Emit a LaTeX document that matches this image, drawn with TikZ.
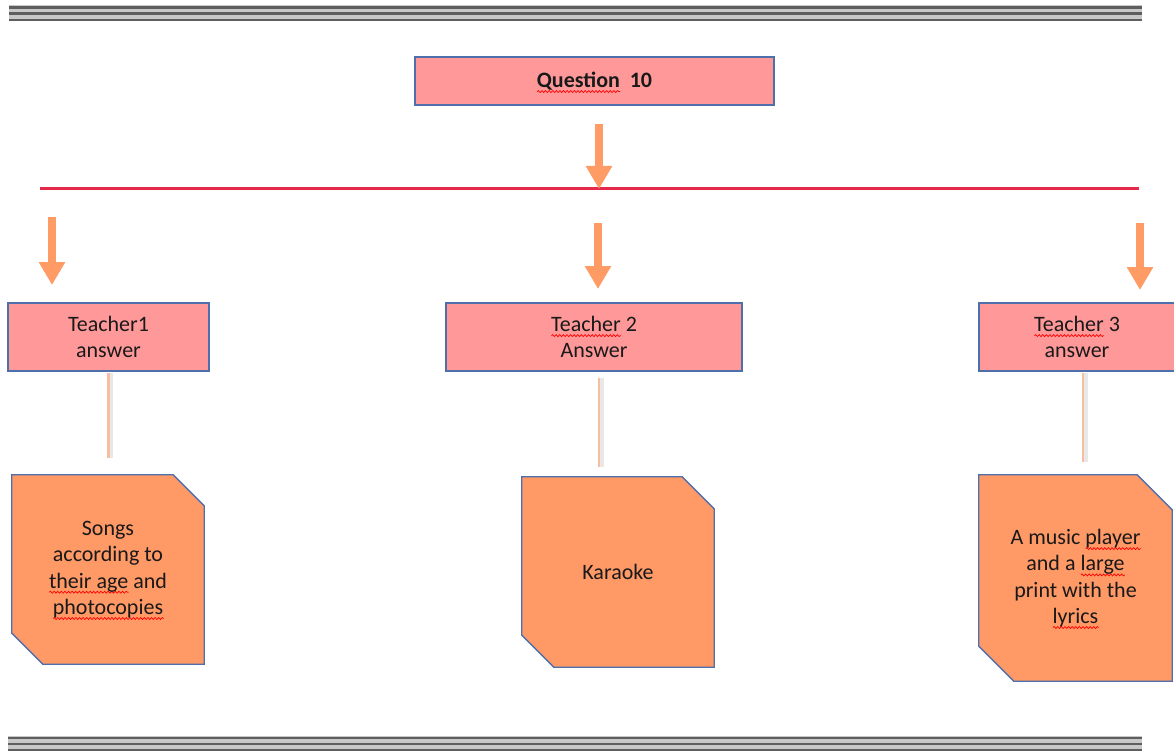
\documentclass[tikz,border=0pt]{standalone}
\usepackage{fontspec}
\setmainfont{Carlito}
\usetikzlibrary{arrows.meta,calc,decorations.pathmorphing}

\pgfdeclarelayer{paper}
\pgfdeclarelayer{background}
\pgfsetlayers{paper,background,main}

\definecolor{boxpink}{HTML}{FF9999}
\definecolor{boxorange}{HTML}{FF9966}
\definecolor{arroworange}{HTML}{FF9C66}
\definecolor{edgeblue}{HTML}{4F6FAA}
\definecolor{barred}{HTML}{E6284B}
\definecolor{linkpeach}{HTML}{F8BEA0}
\definecolor{ruledark}{HTML}{5E5E5E}
\definecolor{rulelight}{HTML}{C8C8C8}

% red wavy underline for flagged words
\newdimen\squigwd
\newcommand\squig[1]{\setbox0\hbox{#1}\squigwd=\wd0\relax
  \leavevmode\rlap{\raisebox{-4.2pt}[0pt][0pt]{\tikz[x=1pt,y=1pt,baseline=0pt]
    \draw[red, line width=0.7pt, decorate,
      decoration={snake, amplitude=1pt, segment length=3.6pt}]
      (0,0) -- (\squigwd,0);}}#1}

\tikzset{
  txt/.style={font=\fontsize{22}{26.3}\selectfont, text=black!90, align=center},
  qbox/.style={txt, draw=edgeblue, line width=1.3pt, fill=boxpink, inner sep=0pt},
  tbox/.style={txt, draw=edgeblue, line width=1.3pt, fill=boxpink, inner sep=0pt},
  snipbox/.style={txt, inner sep=0pt},
  snipedge/.style={draw=edgeblue, line width=1.3pt, fill=boxorange, line join=miter},
  blockarrow/.style={arroworange, line width=8.5pt, -{Triangle[width=25pt,length=23pt]}},
  linkshade/.style={black!15, line width=4pt, opacity=0.6},
  linkline/.style={linkpeach, line width=2.2pt},
}

% box with top-right and bottom-left corners cut off
\newcommand\cutcorners[2]{%
  \begin{pgfonlayer}{background}
    \path[snipedge] (#1.north west) -- ([xshift=-#2pt]#1.north east)
      -- ([yshift=-#2pt]#1.north east) -- (#1.south east)
      -- ([xshift=#2pt]#1.south west) -- ([yshift=#2pt]#1.south west) -- cycle;
  \end{pgfonlayer}}

% horizontal grey triple rule
\newcommand\triplerule[3]{%
  \fill[rulelight] (#1,#3) rectangle (#2,#3+15);
  \foreach \dy in {1,7,13.2}{\fill[ruledark] (#1,#3+\dy) rectangle (#2,#3+\dy+2.2);}}

\begin{document}
\begin{tikzpicture}[x=1pt,y=-1pt]
\useasboundingbox (0,0) rectangle (1174,751);
\begin{pgfonlayer}{paper}
  \fill[white] (0,0) rectangle (1174,751);
\end{pgfonlayer}

% page rules
\triplerule{9}{1142}{5.5}
\triplerule{8}{1142}{735.5}

% question
\node[qbox, minimum width=359pt, minimum height=48pt] (q) at (594.5,81)
  {\textbf{\squig{Question}\ \ 10}};

% distribution bar
\coordinate (hl) at (40,189);
\coordinate (hr) at (1139,189);
\draw[barred, line width=3pt] (hl) -- (hr);

% arrows
\coordinate (a0s) at (599,124);
\coordinate (a0e) at (599,189);
\coordinate (a1s) at (52,217);
\coordinate (a1e) at (52,285);
\coordinate (a2s) at (598,223);
\coordinate (a2e) at (598,289);
\coordinate (a3s) at (1140,223);
\coordinate (a3e) at (1140,290);
\draw[blockarrow] (a0s) -- (a0e);
\draw[blockarrow] (a1s) -- (a1e);
\draw[blockarrow] (a2s) -- (a2e);
\draw[blockarrow] (a3s) -- (a3e);

% teacher boxes
\node[tbox, minimum width=201pt, minimum height=68pt] (t1) at (108.5,337)
  {Teacher1\\answer};
\node[tbox, minimum width=296pt, minimum height=68pt] (t2) at (594,337)
  {\squig{Teacher} 2\\Answer};
\node[tbox, minimum width=196pt, minimum height=68pt] (t3) at (1077,337)
  {\squig{Teacher} 3\\answer};

% answer boxes
\node[snipbox, minimum width=192pt, minimum height=189pt] (b1) at (108,569.5)
  {Songs\\according to\\\squig{their age} and\\\squig{photocopies}};
\cutcorners{b1}{31}
\node[snipbox, minimum width=192pt, minimum height=190pt] (b2) at (618,572)
  {Karaoke};
\cutcorners{b2}{32}
\node[snipbox, minimum width=193pt, minimum height=206pt] (b3) at (1075.5,578)
  {A music \squig{player}\\and a \squig{large}\\print with the\\\squig{lyrics}};
\cutcorners{b3}{35}

% links between teacher and answer boxes
\coordinate (l1s) at ($(t1.south)+(0,1)$);
\coordinate (l1e) at ($(t1.south |- b1.north)+(0,-17)$);
\coordinate (l2s) at ($(t2.south)+(5,6)$);
\coordinate (l2e) at ($(t2.south |- b2.north)+(5,-10)$);
\coordinate (l3s) at ($(t3.south)+(6,1)$);
\coordinate (l3e) at ($(t3.south |- b3.north)+(6,-13)$);
\foreach \s/\e in {l1s/l1e,l2s/l2e,l3s/l3e}{
  \draw[linkshade] ($(\s)+(2.5,0)$) -- ($(\e)+(2.5,0)$);
  \draw[linkline] (\s) -- (\e);
}
\end{tikzpicture}
\end{document}
